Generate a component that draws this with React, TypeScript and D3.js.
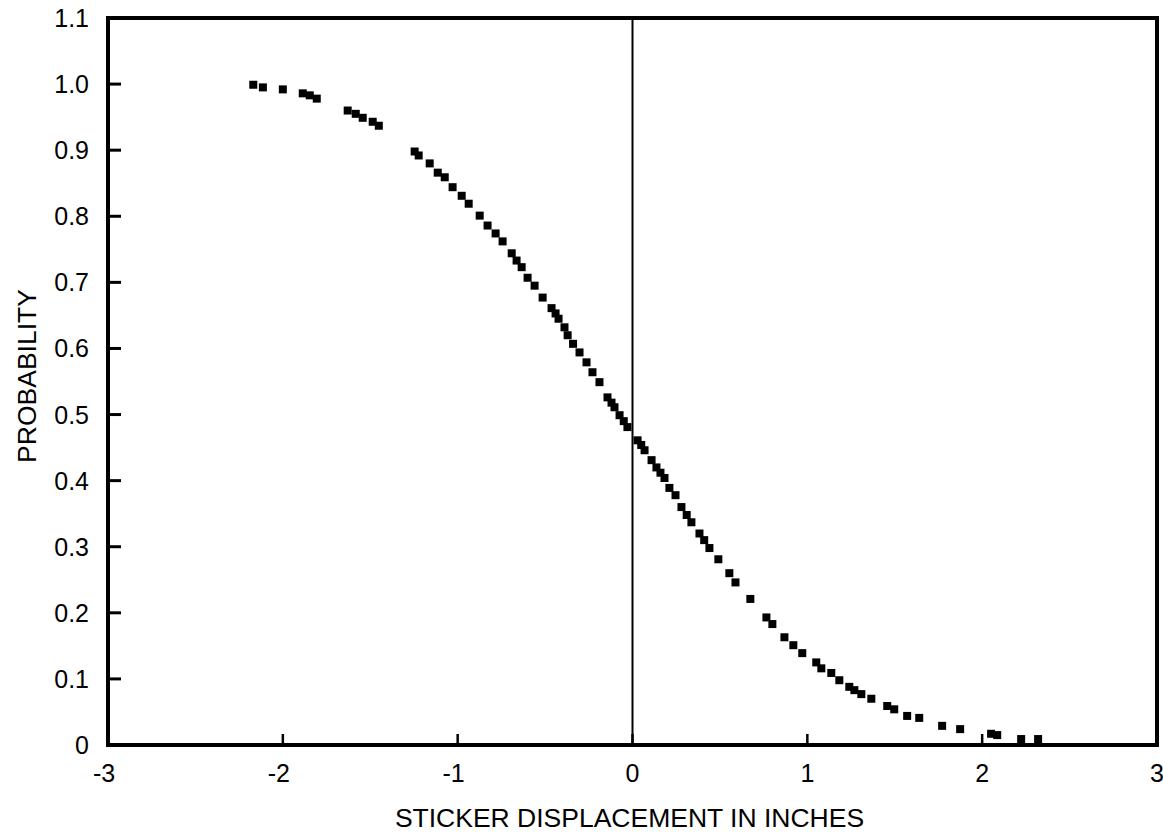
import React from "react";
import * as d3 from "d3";

// Observed probability vs. sticker displacement (inches)
const displacement: number[] = [
  -2.169, -2.114, -2.0, -1.886, -1.846, -1.806, -1.629, -1.583, -1.543, -1.486,
  -1.451, -1.246, -1.223, -1.16, -1.114, -1.074, -1.029, -0.977, -0.937, -0.874,
  -0.829, -0.783, -0.743, -0.691, -0.663, -0.634, -0.6, -0.56, -0.514, -0.463,
  -0.44, -0.423, -0.389, -0.371, -0.34, -0.303, -0.263, -0.229, -0.189, -0.143,
  -0.12, -0.103, -0.074, -0.05, -0.029, 0.029, 0.05, 0.069, 0.109, 0.137, 0.16,
  0.183, 0.211, 0.246, 0.28, 0.31, 0.337, 0.383, 0.41, 0.44, 0.491, 0.554,
  0.589, 0.674, 0.766, 0.8, 0.869, 0.92, 0.971, 1.051, 1.08, 1.137, 1.183,
  1.24, 1.269, 1.309, 1.366, 1.457, 1.497, 1.571, 1.64, 1.771, 1.874, 2.051,
  2.086, 2.223, 2.32,
];
const probability: number[] = [
  0.999, 0.995, 0.992, 0.986, 0.983, 0.978, 0.96, 0.955, 0.949, 0.943,
  0.937, 0.898, 0.892, 0.88, 0.866, 0.859, 0.844, 0.831, 0.819, 0.801,
  0.786, 0.774, 0.762, 0.744, 0.733, 0.723, 0.707, 0.695, 0.677, 0.661,
  0.653, 0.645, 0.632, 0.62, 0.607, 0.594, 0.579, 0.564, 0.549, 0.526,
  0.518, 0.511, 0.499, 0.49, 0.481, 0.461, 0.454, 0.446, 0.431, 0.42, 0.412,
  0.404, 0.389, 0.378, 0.36, 0.348, 0.337, 0.32, 0.31, 0.298, 0.281, 0.26,
  0.246, 0.221, 0.193, 0.183, 0.163, 0.151, 0.139, 0.125, 0.116, 0.109, 0.098,
  0.088, 0.083, 0.077, 0.07, 0.059, 0.054, 0.044, 0.041, 0.029, 0.024, 0.017,
  0.015, 0.009, 0.009,
];

const xTicks: number[] = [-3, -2, -1, 0, 1, 2, 3];
const yTicks: number[] = [0, 0.1, 0.2, 0.3, 0.4, 0.5, 0.6, 0.7, 0.8, 0.9, 1.0, 1.1];
const xTitle = "STICKER DISPLACEMENT IN INCHES";
const yTitle = "PROBABILITY";

const W = 1163;
const H = 833;
const left = 108;
const right = 1157;
const top = 18;
const bottom = 745;

export default function App() {
  const x = d3.scaleLinear().domain([-3, 3]).range([left, right]);
  const y = d3.scaleLinear().domain([0, 1.1]).range([bottom, top]);
  const font = "'Liberation Sans', Arial, Helvetica, sans-serif";
  const pts = d3.zip(displacement, probability);
  const yFmt = (v: number) => (v === 0 ? "0" : d3.format(".1f")(v));

  return (
    <div style={{ position: "absolute", left: 0, top: 0 }}>
      <svg width={W} height={H} style={{ display: "block", background: "#fff" }}>
        {/* zero reference line */}
        <line x1={x(0)} x2={x(0)} y1={top} y2={bottom} stroke="#000" strokeWidth={2} />

        {/* data markers */}
        {pts.map(([dx, p], i) => (
          <rect
            key={i}
            x={x(dx) - 4}
            y={y(p) - 4}
            width={8}
            height={8}
            fill="#000"
          />
        ))}

        {/* frame */}
        <rect
          x={left}
          y={top}
          width={right - left}
          height={bottom - top}
          fill="none"
          stroke="#000"
          strokeWidth={4}
        />

        {/* y ticks and labels */}
        {yTicks.map((t) => (
          <g key={"y" + t}>
            <line x1={left} x2={left + 13} y1={y(t)} y2={y(t)} stroke="#000" strokeWidth={3} />
            <text
              x={89}
              y={y(t)}
              dy="0.36em"
              textAnchor="end"
              fontFamily={font}
              fontSize={25}
              fill="#000"
            >
              {yFmt(t)}
            </text>
          </g>
        ))}

        {/* x ticks and labels */}
        {xTicks.map((t) => (
          <g key={"x" + t}>
            <line x1={x(t)} x2={x(t)} y1={bottom} y2={bottom - 11} stroke="#000" strokeWidth={2.5} />
            <text
              x={x(t) - (t < 0 ? 4 : 0)}
              y={782}
              textAnchor="middle"
              fontFamily={font}
              fontSize={25}
              fill="#000"
            >
              {t}
            </text>
          </g>
        ))}

        {/* axis titles */}
        <text
          x={(left + right) / 2 - 3}
          y={827}
          textAnchor="middle"
          fontFamily={font}
          fontSize={26.5}
          fill="#000"
        >
          {xTitle}
        </text>
        <text
          transform={`translate(36, 376) rotate(-90)`}
          textAnchor="middle"
          fontFamily={font}
          fontSize={26.5}
          fill="#000"
        >
          {yTitle}
        </text>
      </svg>
    </div>
  );
}
